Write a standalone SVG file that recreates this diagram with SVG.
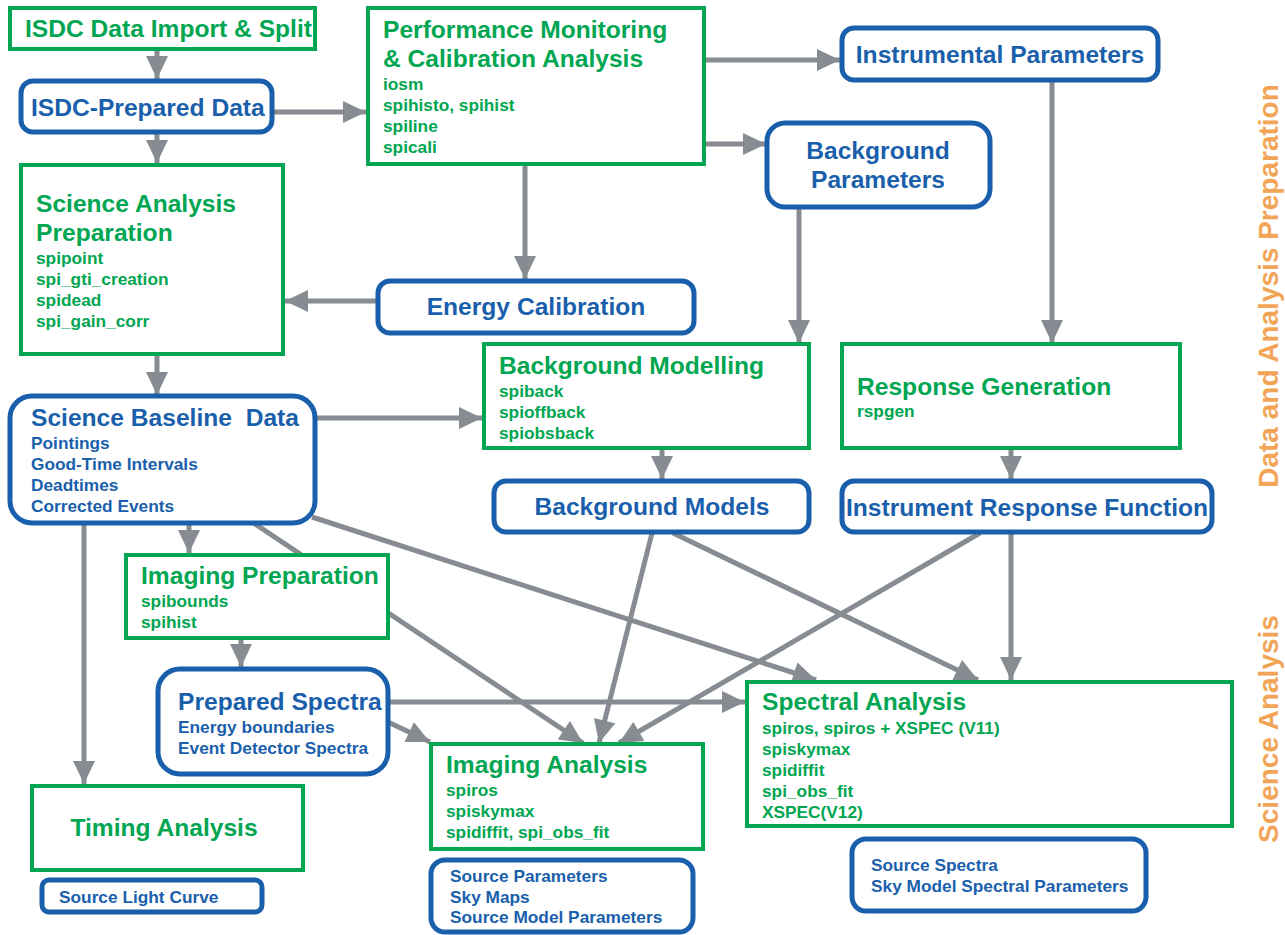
<svg xmlns="http://www.w3.org/2000/svg" width="1285" height="935" viewBox="0 0 1285 935">
<style>
text{font-family:"Liberation Sans",Arial,sans-serif;font-weight:bold}
.b{fill:#fff;stroke:#1a5fac;stroke-width:5}
.gw{fill:#fff;stroke:#00a651;stroke-width:4}
.gt{fill:#00a651;font-size:24.6px}
.gs{fill:#00a651;font-size:17.3px}
.bt{fill:#1a5fac;font-size:24.6px}
.bs{fill:#1a5fac;font-size:17.3px}
.c{text-anchor:middle}
.ln{stroke:#878c92;stroke-width:5;fill:none}
.ar{marker-end:url(#ah)}
.side{fill:#f2a556;font-size:28px}
</style>
<defs>
<marker id="ah" markerUnits="userSpaceOnUse" markerWidth="24" markerHeight="22" viewBox="0 0 23 22" refX="23" refY="11" orient="auto">
<path d="M0,0 L23,11 L0,22 z" fill="#878c92"/>
</marker>
</defs>
<rect width="1285" height="935" fill="#fff"/>
<g id="connectors">
<line class="ln ar" x1="157" y1="49" x2="157" y2="79"/>
<line class="ln ar" x1="157" y1="132" x2="157" y2="163"/>
<line class="ln ar" x1="274" y1="112" x2="366" y2="112"/>
<line class="ln ar" x1="704" y1="60" x2="840" y2="60"/>
<line class="ln ar" x1="704" y1="144" x2="766" y2="144"/>
<line class="ln ar" x1="525" y1="164" x2="525" y2="279"/>
<line class="ln ar" x1="377" y1="301" x2="285" y2="301"/>
<line class="ln ar" x1="1052" y1="80" x2="1052" y2="343"/>
<line class="ln ar" x1="799" y1="207" x2="799" y2="343"/>
<line class="ln ar" x1="157" y1="354" x2="157" y2="395"/>
<line class="ln ar" x1="315" y1="418" x2="482" y2="418"/>
<line class="ln ar" x1="662" y1="448" x2="662" y2="479"/>
<line class="ln ar" x1="1011" y1="448" x2="1011" y2="479"/>
<line class="ln ar" x1="189" y1="523" x2="189" y2="553"/>
<line class="ln ar" x1="84" y1="523" x2="84" y2="784"/>
<line class="ln ar" x1="252" y1="522" x2="583" y2="743"/>
<line class="ln ar" x1="312" y1="517" x2="816" y2="680"/>
<line class="ln ar" x1="241" y1="638" x2="241" y2="667"/>
<line class="ln ar" x1="388" y1="702" x2="745" y2="702"/>
<line class="ln ar" x1="388" y1="722" x2="430" y2="742"/>
<line class="ln ar" x1="652" y1="533" x2="599" y2="743"/>
<line class="ln ar" x1="673" y1="533" x2="978" y2="680"/>
<line class="ln ar" x1="980" y1="533" x2="619" y2="743"/>
<line class="ln ar" x1="1011" y1="533" x2="1011" y2="680"/>
</g>
<g id="isdc-import">
<rect class="gw" x="10" y="8" width="305" height="41"/>
<text class="gt" x="25" y="37">ISDC Data Import &amp; Split</text>
</g>
<g id="isdc-prepared">
<rect class="b" x="21" y="81" width="251" height="51" rx="12"/>
<text class="bt" x="31" y="116">ISDC-Prepared Data</text>
</g>
<g id="science-analysis-prep">
<rect class="gw" x="21" y="165" width="262" height="189"/>
<text class="gt" x="36" y="212">Science Analysis</text>
<text class="gt" x="36" y="241">Preparation</text>
<text class="gs" x="36" y="264">spipoint</text>
<text class="gs" x="36" y="285">spi_gti_creation</text>
<text class="gs" x="36" y="306">spidead</text>
<text class="gs" x="36" y="327">spi_gain_corr</text>
</g>
<g id="performance-monitoring">
<rect class="gw" x="368" y="8" width="336" height="156"/>
<text class="gt" x="383" y="38">Performance Monitoring</text>
<text class="gt" x="383" y="67">&amp; Calibration Analysis</text>
<text class="gs" x="383" y="90">iosm</text>
<text class="gs" x="383" y="111">spihisto, spihist</text>
<text class="gs" x="383" y="132">spiline</text>
<text class="gs" x="383" y="153">spicali</text>
</g>
<g id="instrumental-parameters">
<rect class="b" x="842" y="28" width="316" height="52" rx="12"/>
<text class="bt c" x="1000" y="63">Instrumental Parameters</text>
</g>
<g id="background-parameters">
<rect class="b" x="767" y="123" width="223" height="84" rx="18"/>
<text class="bt c" x="878" y="159">Background</text>
<text class="bt c" x="878" y="188">Parameters</text>
</g>
<g id="energy-calibration">
<rect class="b" x="378" y="281" width="316" height="52" rx="12"/>
<text class="bt c" x="536" y="315">Energy Calibration</text>
</g>
<g id="background-modelling">
<rect class="gw" x="484" y="344" width="325" height="104"/>
<text class="gt" x="499" y="374">Background Modelling</text>
<text class="gs" x="499" y="397">spiback</text>
<text class="gs" x="499" y="418">spioffback</text>
<text class="gs" x="499" y="439">spiobsback</text>
</g>
<g id="response-generation">
<rect class="gw" x="842" y="344" width="338" height="104"/>
<text class="gt" x="857" y="395">Response Generation</text>
<text class="gs" x="857" y="417">rspgen</text>
</g>
<g id="science-baseline-data">
<rect class="b" x="10" y="396" width="305" height="127" rx="22"/>
<text class="bt" x="31" y="426" style="white-space:pre">Science Baseline  Data</text>
<text class="bs" x="31" y="449">Pointings</text>
<text class="bs" x="31" y="470">Good-Time Intervals</text>
<text class="bs" x="31" y="491">Deadtimes</text>
<text class="bs" x="31" y="512">Corrected Events</text>
</g>
<g id="background-models">
<rect class="b" x="494" y="481" width="315" height="51" rx="12"/>
<text class="bt c" x="652" y="515">Background Models</text>
</g>
<g id="instrument-response-function">
<rect class="b" x="842" y="481" width="370" height="51" rx="12"/>
<text class="bt c" x="1027" y="516">Instrument Response Function</text>
</g>
<g id="imaging-preparation">
<rect class="gw" x="126" y="555" width="262" height="83"/>
<text class="gt" x="141" y="584">Imaging Preparation</text>
<text class="gs" x="141" y="607">spibounds</text>
<text class="gs" x="141" y="628">spihist</text>
</g>
<g id="prepared-spectra">
<rect class="b" x="158" y="669" width="230" height="105" rx="22"/>
<text class="bt" x="178" y="710">Prepared Spectra</text>
<text class="bs" x="178" y="733">Energy boundaries</text>
<text class="bs" x="178" y="754">Event Detector Spectra</text>
</g>
<g id="spectral-analysis">
<rect class="gw" x="747" y="682" width="485" height="144"/>
<text class="gt" x="762" y="710">Spectral Analysis</text>
<text class="gs" x="762" y="734">spiros, spiros + XSPEC (V11)</text>
<text class="gs" x="762" y="755">spiskymax</text>
<text class="gs" x="762" y="776">spidiffit</text>
<text class="gs" x="762" y="797">spi_obs_fit</text>
<text class="gs" x="762" y="818">XSPEC(V12)</text>
</g>
<g id="imaging-analysis">
<rect class="gw" x="431" y="744" width="272" height="105"/>
<text class="gt" x="446" y="773">Imaging Analysis</text>
<text class="gs" x="446" y="796">spiros</text>
<text class="gs" x="446" y="817">spiskymax</text>
<text class="gs" x="446" y="838">spidiffit, spi_obs_fit</text>
</g>
<g id="timing-analysis">
<rect class="gw" x="32" y="786" width="271" height="84"/>
<text class="gt c" x="164" y="836">Timing Analysis</text>
</g>
<g id="source-light-curve">
<rect class="b" x="42" y="880" width="220" height="32" rx="7"/>
<text class="bs" x="59" y="903">Source Light Curve</text>
</g>
<g id="imaging-products">
<rect class="b" x="431" y="860" width="262" height="72" rx="14"/>
<text class="bs" x="450" y="882">Source Parameters</text>
<text class="bs" x="450" y="903">Sky Maps</text>
<text class="bs" x="450" y="923">Source Model Parameters</text>
</g>
<g id="spectral-products">
<rect class="b" x="852" y="839" width="294" height="72" rx="14"/>
<text class="bs" x="871" y="871">Source Spectra</text>
<text class="bs" x="871" y="892">Sky Model Spectral Parameters</text>
</g>
<g id="side-labels">
<text class="side c" transform="translate(1278,286) rotate(-90)">Data and Analysis Preparation</text>
<text class="side c" transform="translate(1278,729) rotate(-90)">Science Analysis</text>
</g>
</svg>
